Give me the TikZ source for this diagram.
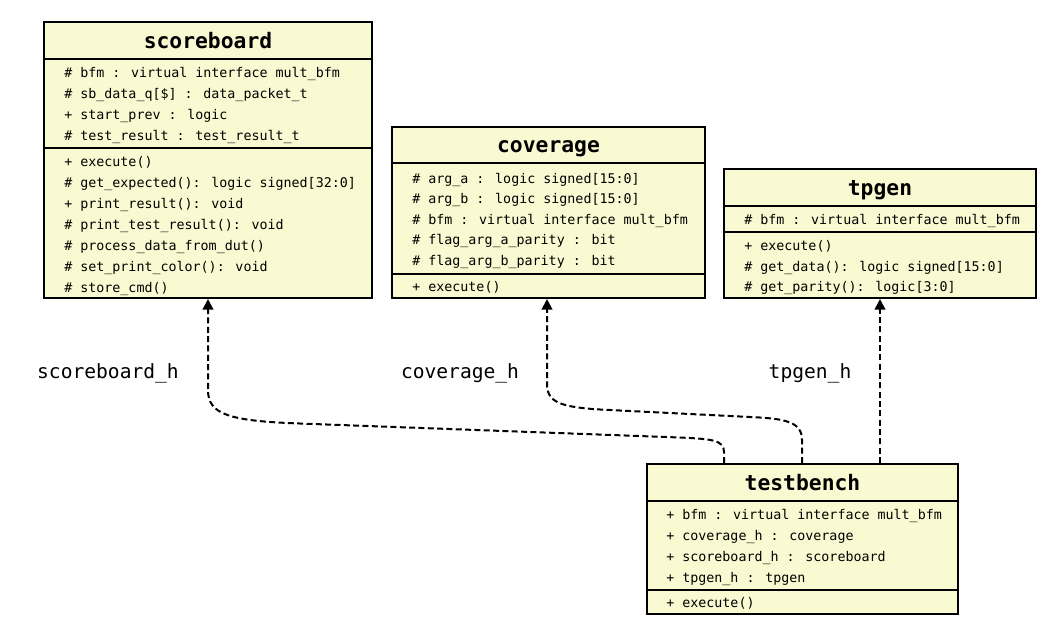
\documentclass[tikz,border=0pt]{standalone}
\usepackage{fontspec}
\setmainfont{DejaVu Sans Mono}
\usepackage{tikz}
\usetikzlibrary{arrows.meta,fit}

\definecolor{classfill}{HTML}{FAFAD2}

\begin{document}
\begin{tikzpicture}[x=0.75pt,y=-0.75pt,
    cls/.style={draw,line width=1.5pt,fill=classfill,inner sep=0pt},
    sep/.style={line width=1.5pt},
    cname/.style={inner sep=0pt,font=\fontsize{16}{19}\selectfont\bfseries,text height=11pt,text depth=3pt},
    member/.style={anchor=west,inner sep=0pt,font=\fontsize{10}{12}\selectfont,text height=7.5pt,text depth=2.2pt},
    role/.style={inner sep=0pt,font=\fontsize{14.7}{17}\selectfont,text height=10.5pt,text depth=3pt},
    dep/.style={line width=1.5pt,dash pattern=on 4.5pt off 2.5pt,-{Triangle[length=8pt,width=8pt]}}]
    \useasboundingbox (0,0) rectangle (1048,637);

    % scoreboard
    \node[cls,fit={(44,22) (372,298)}] (sb) {};
    \node[cname] (sb-name) at (208,43) {scoreboard};
    \draw[sep] (sb.west |- 0,59) -- (sb.east |- 0,59);
    \draw[sep] (sb.west |- 0,148) -- (sb.east |- 0,148);
    \foreach \t [count=\i] in {{\# bfm : virtual interface mult\_bfm},
        {\# sb\_data\_q[\$] : data\_packet\_t},
        {+ start\_prev : logic},
        {\# test\_result : test\_result\_t}}
        \node[member] (sb-a\i) at (64,{73.5+21*(\i-1)}) {\t};
    \foreach \t [count=\i] in {{+ execute()},
        {\# get\_expected(): logic signed[32:0]},
        {+ print\_result(): void},
        {\# print\_test\_result(): void},
        {\# process\_data\_from\_dut()},
        {\# set\_print\_color(): void},
        {\# store\_cmd()}}
        \node[member] (sb-m\i) at (64,{162.5+21*(\i-1)}) {\t};

    % coverage
    \node[cls,fit={(392,127) (705,298)}] (cov) {};
    \node[cname] (cov-name) at (548.5,147.5) {coverage};
    \draw[sep] (cov.west |- 0,163) -- (cov.east |- 0,163);
    \draw[sep] (cov.west |- 0,274) -- (cov.east |- 0,274);
    \foreach \t [count=\i] in {{\# arg\_a : logic signed[15:0]},
        {\# arg\_b : logic signed[15:0]},
        {\# bfm : virtual interface mult\_bfm},
        {\# flag\_arg\_a\_parity : bit},
        {\# flag\_arg\_b\_parity : bit}}
        \node[member] (cov-a\i) at (412,{179.5+20.6*(\i-1)}) {\t};
    \node[member] (cov-m1) at (412,288) {+ execute()};

    % tpgen
    \node[cls,fit={(724,169) (1036,298)}] (tp) {};
    \node[cname] (tp-name) at (880,190) {tpgen};
    \draw[sep] (tp.west |- 0,206) -- (tp.east |- 0,206);
    \draw[sep] (tp.west |- 0,232) -- (tp.east |- 0,232);
    \node[member] (tp-a1) at (744,220.5) {\# bfm : virtual interface mult\_bfm};
    \foreach \t [count=\i] in {{+ execute()},
        {\# get\_data(): logic signed[15:0]},
        {\# get\_parity(): logic[3:0]}}
        \node[member] (tp-m\i) at (744,{247+20.7*(\i-1)}) {\t};

    % testbench
    \node[cls,fit={(647,464) (958,614)}] (tb) {};
    \node[cname] (tb-name) at (802.5,485) {testbench};
    \draw[sep] (tb.west |- 0,501) -- (tb.east |- 0,501);
    \draw[sep] (tb.west |- 0,590) -- (tb.east |- 0,590);
    \foreach \t [count=\i] in {{+ bfm : virtual interface mult\_bfm},
        {+ coverage\_h : coverage},
        {+ scoreboard\_h : scoreboard},
        {+ tpgen\_h : tpgen}}
        \node[member] (tb-a\i) at (666,{515.5+21*(\i-1)}) {\t};
    \node[member] (tb-m1) at (666,604) {+ execute()};

    % associations
    \draw[dep] (724,0 |- tb.north) -- (724,452)
        .. controls (724,440) and (712,439) .. (680,437.5) -- (300,423.5)
        .. controls (228,421) and (208,414) .. (208,390) -- (208,0 |- sb.south);
    \draw[dep] (802,0 |- tb.north) -- (802,440)
        .. controls (802,422) and (786,418.5) .. (750,417) -- (600,409.5)
        .. controls (560,407) and (547,402) .. (547,384) -- (547,0 |- cov.south);
    \draw[dep] (880,0 |- tb.north) -- (880,0 |- tp.south);

    \node[role] (sb-role) at (108,373) {scoreboard\_h};
    \node[role] (cov-role) at (460,373) {coverage\_h};
    \node[role] (tp-role) at (810,373) {tpgen\_h};
\end{tikzpicture}
\end{document}
